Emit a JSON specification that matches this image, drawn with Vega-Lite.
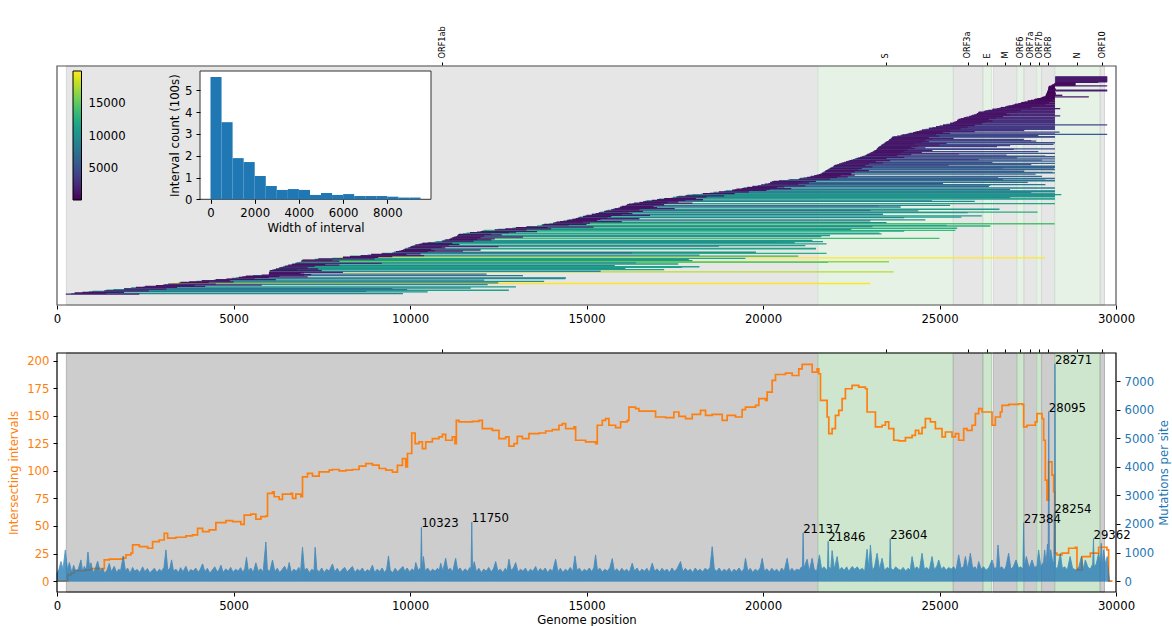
{
  "$schema": "https://vega.github.io/schema/vega-lite/v6.json",
  "padding": {"left": 8, "top": 25, "right": 2, "bottom": 5},
  "spacing": 23,
  "resolve": {"scale": {"fill": "independent", "stroke": "independent", "color": "independent"}},
  "config": {
    "font": "DejaVu Sans",
    "view": {"stroke": null},
    "axis": {
      "labelFont": "DejaVu Sans", "labelFontSize": 11.7, "titleFont": "DejaVu Sans", "titleFontSize": 11.7,
      "titleFontWeight": "normal", "labelColor": "black", "titleColor": "black", "tickColor": "black",
      "tickSize": 4, "tickWidth": 1, "domain": false, "grid": false, "labelPadding": 4, "titlePadding": 5,
      "labelFlush": false, "labelOverlap": false
    },
    "text": {"font": "DejaVu Sans"}
  },
  "datasets": {
    "genes": [
      {"g": "ORF1ab", "s": 266, "e": 21555, "k": "a", "m": 10910.5},
      {"g": "S", "s": 21563, "e": 25384, "k": "b", "m": 23473.5},
      {"g": "ORF3a", "s": 25393, "e": 26220, "k": "a", "m": 25806.5},
      {"g": "E", "s": 26245, "e": 26472, "k": "b", "m": 26358.5},
      {"g": "M", "s": 26523, "e": 27191, "k": "a", "m": 26857},
      {"g": "ORF6", "s": 27202, "e": 27387, "k": "b", "m": 27294.5},
      {"g": "ORF7a", "s": 27394, "e": 27759, "k": "a", "m": 27576.5},
      {"g": "ORF7b", "s": 27756, "e": 27887, "k": "b", "m": 27821.5},
      {"g": "ORF8", "s": 27894, "e": 28259, "k": "a", "m": 28076.5},
      {"g": "N", "s": 28274, "e": 29533, "k": "b", "m": 28903.5},
      {"g": "ORF10", "s": 29558, "e": 29674, "k": "a", "m": 29616}
    ],
    "hist": [
      {"b0": 0, "b1": 500, "c": 5.61}, {"b0": 500, "b1": 1000, "c": 3.54}, {"b0": 1000, "b1": 1500, "c": 1.89},
      {"b0": 1500, "b1": 2000, "c": 1.71}, {"b0": 2000, "b1": 2500, "c": 1.07}, {"b0": 2500, "b1": 3000, "c": 0.61},
      {"b0": 3000, "b1": 3500, "c": 0.43}, {"b0": 3500, "b1": 4000, "c": 0.47}, {"b0": 4000, "b1": 4500, "c": 0.43},
      {"b0": 4500, "b1": 5000, "c": 0.2}, {"b0": 5000, "b1": 5500, "c": 0.29}, {"b0": 5500, "b1": 6000, "c": 0.2},
      {"b0": 6000, "b1": 6500, "c": 0.24}, {"b0": 6500, "b1": 7000, "c": 0.15}, {"b0": 7000, "b1": 7500, "c": 0.15},
      {"b0": 7500, "b1": 8000, "c": 0.15}, {"b0": 8000, "b1": 8500, "c": 0.12}, {"b0": 8500, "b1": 9000, "c": 0.08},
      {"b0": 9000, "b1": 9500, "c": 0.08}
    ],
    "ivals": [
      {"s":250,"e":2330,"w":2080},{"s":500,"e":1400,"w":900},{"s":720,"e":1900,"w":1180},{"s":1000,"e":8760,"w":7760},
      {"s":1340,"e":2600,"w":1260},{"s":1600,"e":9920,"w":8320},{"s":1900,"e":3100,"w":1200},{"s":2100,"e":11720,"w":9620},
      {"s":2236,"e":3400,"w":1164},{"s":2500,"e":4200,"w":1700},{"s":2800,"e":3900,"w":1100},{"s":3000,"e":5800,"w":2800},
      {"s":3150,"e":4500,"w":1350},{"s":3273,"e":23040,"w":19767},
      {"s":3500,"e":4300,"w":800},{"s":3745,"e":5000,"w":1255},{"s":4100,"e":4900,"w":800},{"s":4500,"e":6200,"w":1700},
      {"s":4800,"e":5600,"w":800},{"s":5067,"e":14420,"w":9353},{"s":5150,"e":6000,"w":850},{"s":5250,"e":7100,"w":1850},
      {"s":5350,"e":6300,"w":950},{"s":5800,"e":7000,"w":1200},{"s":6000,"e":12170,"w":6170},{"s":6000,"e":7200,"w":1200},
      {"s":6005,"e":6900,"w":895},{"s":6010,"e":8100,"w":2090},{"s":6010,"e":7000,"w":990},{"s":6015,"e":23700,"w":17685},
      {"s":6030,"e":7500,"w":1470},
      {"s":6100,"e":6800,"w":700},{"s":6200,"e":7400,"w":1200},{"s":6300,"e":7100,"w":800},{"s":6350,"e":17700,"w":11350},
      {"s":6450,"e":7300,"w":850},{"s":6550,"e":8000,"w":1450},{"s":6650,"e":7600,"w":950},{"s":6750,"e":9200,"w":2450},
      {"s":6850,"e":21840,"w":14990},{"s":6900,"e":23570,"w":16670},{"s":6920,"e":8000,"w":1080},{"s":6953,"e":7800,"w":847},
      {"s":7400,"e":9000,"w":1600},{"s":7992,"e":27990,"w":19998},{"s":8100,"e":9100,"w":1000},{"s":8300,"e":9500,"w":1200},
      {"s":8600,"e":10400,"w":1800},{"s":8900,"e":9900,"w":1000},{"s":9200,"e":10300,"w":1100},{"s":9500,"e":16290,"w":6790},
      {"s":9600,"e":10500,"w":900},{"s":9690,"e":11500,"w":1810},{"s":9750,"e":10700,"w":950},{"s":9800,"e":12000,"w":2200},
      {"s":9850,"e":10600,"w":750},{"s":9880,"e":21500,"w":11620},{"s":9950,"e":11000,"w":1050},{"s":10000,"e":10900,"w":900},
      {"s":10030,"e":12500,"w":2470},{"s":10067,"e":18750,"w":8683},{"s":10150,"e":11100,"w":950},{"s":10250,"e":11400,"w":1150},
      {"s":10350,"e":11200,"w":850},{"s":10700,"e":20380,"w":9680},{"s":10900,"e":11800,"w":900},{"s":11000,"e":12300,"w":1300},
      {"s":11106,"e":11900,"w":794},
      {"s":11150,"e":12400,"w":1250},{"s":11200,"e":12000,"w":800},{"s":11250,"e":13200,"w":1950},{"s":11300,"e":21650,"w":10350},
      {"s":11330,"e":12100,"w":770},{"s":11360,"e":12600,"w":1240},{"s":11389,"e":12300,"w":911},{"s":11500,"e":23360,"w":11860},
      {"s":11700,"e":12800,"w":1100},{"s":11900,"e":13000,"w":1100},{"s":12000,"e":13600,"w":1600},{"s":12100,"e":25450,"w":13350},
      {"s":12400,"e":13300,"w":900},{"s":12700,"e":14000,"w":1300},{"s":13000,"e":13900,"w":900},{"s":13300,"e":15200,"w":1900},
      {"s":13600,"e":26440,"w":12840},{"s":13747,"e":14500,"w":753},{"s":13800,"e":15000,"w":1200},{"s":13950,"e":28262,"w":14312},
      {"s":14050,"e":15100,"w":1050},{"s":14150,"e":14900,"w":750},{"s":14250,"e":16000,"w":1750},{"s":14350,"e":23040,"w":8690},
      {"s":14450,"e":15300,"w":850},{"s":14600,"e":15400,"w":800},{"s":14693,"e":16500,"w":1807},{"s":14750,"e":15600,"w":850},
      {"s":14800,"e":25620,"w":10820},{"s":14900,"e":15700,"w":800},{"s":15000,"e":16800,"w":1800},{"s":15150,"e":16000,"w":850},
      {"s":15259,"e":16300,"w":1041},
      {"s":15350,"e":16200,"w":850},{"s":15400,"e":27780,"w":12380},{"s":15500,"e":16600,"w":1100},{"s":15600,"e":23040,"w":7440},
      {"s":15700,"e":16500,"w":800},{"s":15800,"e":17500,"w":1700},{"s":15900,"e":16800,"w":900},{"s":15950,"e":17000,"w":1050},
      {"s":16000,"e":16900,"w":900},{"s":16100,"e":23280,"w":7180},{"s":16150,"e":17200,"w":1050},{"s":16201,"e":17100,"w":899},
      {"s":16350,"e":18000,"w":1650},{"s":16500,"e":17300,"w":800},{"s":16600,"e":17600,"w":1000},{"s":16700,"e":24790,"w":8090},
      {"s":16850,"e":17800,"w":950},{"s":17000,"e":18300,"w":1300},{"s":17200,"e":18100,"w":900},{"s":17400,"e":28270,"w":10870},
      {"s":17550,"e":18400,"w":850},{"s":17617,"e":28270,"w":10653},{"s":17800,"e":18900,"w":1100},{"s":18000,"e":28450,"w":10450},
      {"s":18300,"e":19200,"w":900},{"s":18500,"e":28270,"w":9770},{"s":18750,"e":19600,"w":850},{"s":18950,"e":28270,"w":9320},
      {"s":19127,"e":20100,"w":973},{"s":19250,"e":20200,"w":950},{"s":19400,"e":20800,"w":1400},{"s":19550,"e":20400,"w":850},
      {"s":19700,"e":20600,"w":900},{"s":19850,"e":21200,"w":1350},{"s":19950,"e":26440,"w":6490},{"s":20050,"e":21000,"w":950},
      {"s":20150,"e":25100,"w":4950},{"s":20200,"e":21300,"w":1100},{"s":20250,"e":21100,"w":850},{"s":20300,"e":21500,"w":1200},
      {"s":20700,"e":28000,"w":7300},{"s":21014,"e":21900,"w":886},{"s":21150,"e":26660,"w":5510},{"s":21250,"e":22100,"w":850},
      {"s":21350,"e":22400,"w":1050},{"s":21450,"e":22200,"w":750},{"s":21520,"e":22600,"w":1080},{"s":21580,"e":22500,"w":920},
      {"s":21620,"e":27720,"w":6100},{"s":21660,"e":22500,"w":840},{"s":21700,"e":28200,"w":6500},{"s":21740,"e":22600,"w":860},
      {"s":21780,"e":23000,"w":1220},{"s":21820,"e":22700,"w":880},{"s":21860,"e":28250,"w":6390},{"s":21900,"e":22800,"w":900},
      {"s":21950,"e":28270,"w":6320},{"s":21990,"e":23100,"w":1110},{"s":22020,"e":22900,"w":880},{"s":22052,"e":25260,"w":3208},
      {"s":22150,"e":23000,"w":850},{"s":22250,"e":23400,"w":1150},{"s":22350,"e":23200,"w":850},{"s":22450,"e":23600,"w":1150},
      {"s":22550,"e":26110,"w":3560},{"s":22650,"e":23500,"w":850},{"s":22750,"e":24000,"w":1250},{"s":22850,"e":28000,"w":5150},
      {"s":22900,"e":23800,"w":900},{"s":22950,"e":24200,"w":1250},{"s":22995,"e":25550,"w":2555},{"s":23050,"e":23900,"w":850},
      {"s":23100,"e":24500,"w":1400},{"s":23140,"e":24000,"w":860},{"s":23170,"e":24800,"w":1630},{"s":23200,"e":24100,"w":900},
      {"s":23220,"e":27100,"w":3880},{"s":23240,"e":24300,"w":1060},{"s":23260,"e":24600,"w":1340},{"s":23278,"e":24200,"w":922},
      {"s":23300,"e":26630,"w":3330},{"s":23330,"e":24400,"w":1070},{"s":23360,"e":25000,"w":1640},{"s":23390,"e":28230,"w":4840},
      {"s":23420,"e":24300,"w":880},{"s":23450,"e":25200,"w":1750},{"s":23480,"e":24500,"w":1020},{"s":23510,"e":24700,"w":1190},
      {"s":23540,"e":27740,"w":4200},{"s":23570,"e":24600,"w":1030},{"s":23600,"e":27390,"w":3790},{"s":23620,"e":24800,"w":1180},
      {"s":23640,"e":25400,"w":1760},{"s":23650,"e":24700,"w":1050},{"s":23656,"e":28270,"w":4614},{"s":23800,"e":25000,"w":1200},
      {"s":23950,"e":24900,"w":950},{"s":24050,"e":29750,"w":5700},{"s":24150,"e":25300,"w":1150},{"s":24250,"e":25100,"w":850},
      {"s":24350,"e":26000,"w":1650},{"s":24430,"e":25300,"w":870},{"s":24505,"e":27390,"w":2885},
      {"s":24600,"e":28270,"w":3670},{"s":24700,"e":25600,"w":900},{"s":24800,"e":28270,"w":3470},{"s":24900,"e":25800,"w":900},
      {"s":25000,"e":28270,"w":3270},{"s":25100,"e":26000,"w":900},{"s":25200,"e":28270,"w":3070},{"s":25300,"e":26200,"w":900},
      {"s":25380,"e":28270,"w":2890},{"s":25420,"e":26300,"w":880},{"s":25460,"e":28270,"w":2810},{"s":25500,"e":26500,"w":1000},
      {"s":25520,"e":28270,"w":2750},{"s":25544,"e":26400,"w":856},{"s":25600,"e":28270,"w":2670},{"s":25680,"e":26600,"w":920},
      {"s":25760,"e":28270,"w":2510},{"s":25840,"e":26800,"w":960},{"s":25920,"e":28270,"w":2350},{"s":25980,"e":27000,"w":1020},
      {"s":26030,"e":28270,"w":2240},{"s":26060,"e":26900,"w":840},{"s":26090,"e":28270,"w":2180},{"s":26110,"e":27200,"w":1090},
      {"s":26250,"e":28270,"w":2020},{"s":26380,"e":27300,"w":920},{"s":26500,"e":28270,"w":1770},{"s":26620,"e":28420,"w":1800},
      {"s":26740,"e":27600,"w":860},{"s":26860,"e":28270,"w":1410},{"s":26960,"e":27800,"w":840},{"s":27054,"e":28270,"w":1216},
      {"s":27140,"e":28000,"w":860},{"s":27230,"e":28270,"w":1040},{"s":27320,"e":28100,"w":780},{"s":27410,"e":28270,"w":860},
      {"s":27500,"e":28270,"w":770},{"s":27590,"e":28200,"w":610},{"s":27680,"e":28270,"w":590},{"s":27770,"e":28270,"w":500},
      {"s":27860,"e":28270,"w":410},{"s":27940,"e":29230,"w":1290},{"s":27997,"e":28270,"w":273},{"s":28010,"e":28480,"w":470},
      {"s":28020,"e":28270,"w":250},{"s":28030,"e":28270,"w":240},{"s":28040,"e":28300,"w":260},{"s":28050,"e":28270,"w":220},
      {"s":28060,"e":28270,"w":210},{"s":28070,"e":29750,"w":1680},{"s":28075,"e":28270,"w":195},{"s":28080,"e":28300,"w":220},
      {"s":28085,"e":28270,"w":185},{"s":28088,"e":28270,"w":182},{"s":28091,"e":28270,"w":179},{"s":28150,"e":29750,"w":1600},
      {"s":28200,"e":28850,"w":650},{"s":28240,"e":28850,"w":610},{"s":28260,"e":28850,"w":590},{"s":28281,"e":29750,"w":1469},
      {"s":28281,"e":29750,"w":1469},{"s":28281,"e":29500,"w":1219},{"s":28281,"e":29750,"w":1469},{"s":28281,"e":29750,"w":1469},
      {"s":28281,"e":29750,"w":1469},{"s":28281,"e":29750,"w":1469},{"s":28281,"e":29750,"w":1469},
      {"s":400,"e":9800,"w":9400},{"s":900,"e":10500,"w":9600},{"s":1400,"e":12800,"w":11400},{"s":1900,"e":9500,"w":7600},
      {"s":2450,"e":13000,"w":10550},{"s":3050,"e":12200,"w":9150},
      {"s":3450,"e":12500,"w":9050},{"s":3950,"e":13800,"w":9850},{"s":4450,"e":12100,"w":7650},{"s":4950,"e":14400,"w":9450},
      {"s":5550,"e":13200,"w":7650},
      {"s":6020,"e":15400,"w":9380},{"s":6150,"e":17200,"w":11050},{"s":6280,"e":16100,"w":9820},{"s":6400,"e":18200,"w":11800},
      {"s":6530,"e":15800,"w":9270},{"s":6660,"e":17600,"w":10940},{"s":6790,"e":16400,"w":9610},{"s":6930,"e":18000,"w":11070},
      {"s":7300,"e":17900,"w":10600},{"s":7800,"e":19500,"w":11700},{"s":8300,"e":21000,"w":12700},{"s":8800,"e":18200,"w":9400},
      {"s":9200,"e":21800,"w":12600},{"s":9550,"e":19800,"w":10250},{"s":9850,"e":21500,"w":11650},
      {"s":10100,"e":21200,"w":11100},{"s":10300,"e":21800,"w":11500},{"s":10500,"e":20900,"w":10400},{"s":10750,"e":21700,"w":10950},
      {"s":10950,"e":21400,"w":10450},{"s":11150,"e":25000,"w":13850},{"s":11350,"e":21900,"w":10550},
      {"s":11600,"e":23300,"w":11700},{"s":12050,"e":24000,"w":11950},{"s":12500,"e":22500,"w":10000},{"s":12900,"e":25500,"w":12600},
      {"s":13300,"e":23100,"w":9800},{"s":13700,"e":25200,"w":11500},{"s":14100,"e":23500,"w":9400},{"s":14500,"e":24600,"w":10100},
      {"s":14780,"e":24000,"w":9220},{"s":14950,"e":26200,"w":11250},{"s":15150,"e":23400,"w":8250},{"s":15350,"e":25800,"w":10450},
      {"s":15550,"e":24400,"w":8850},{"s":15750,"e":26700,"w":10950},{"s":15950,"e":23900,"w":7950},{"s":16120,"e":25300,"w":9180},
      {"s":16300,"e":28270,"w":11970},{"s":16650,"e":26000,"w":9350},{"s":17050,"e":28270,"w":11220},{"s":17450,"e":27000,"w":9550},
      {"s":17850,"e":28270,"w":10420},{"s":18250,"e":28270,"w":10020},{"s":18600,"e":27600,"w":9000},{"s":18900,"e":28270,"w":9370},
      {"s":19200,"e":27000,"w":7800},{"s":19450,"e":28270,"w":8820},{"s":19700,"e":26400,"w":6700},{"s":19950,"e":28000,"w":8050},
      {"s":20200,"e":27500,"w":7300},{"s":20450,"e":28270,"w":7820},{"s":20750,"e":26800,"w":6050},{"s":21050,"e":28270,"w":7220},
      {"s":21350,"e":27900,"w":6550},
      {"s":21680,"e":28270,"w":6590},{"s":21760,"e":27400,"w":5640},{"s":21840,"e":28270,"w":6430},{"s":21920,"e":26800,"w":4880},
      {"s":22000,"e":28270,"w":6270},{"s":22100,"e":27600,"w":5500},{"s":22200,"e":28270,"w":6070},{"s":22300,"e":26500,"w":4200},
      {"s":22400,"e":28270,"w":5870},{"s":22500,"e":27900,"w":5400},{"s":22600,"e":28270,"w":5670},{"s":22700,"e":27200,"w":4500},
      {"s":22800,"e":28270,"w":5470},{"s":22920,"e":26900,"w":3980},{"s":23020,"e":28270,"w":5250},{"s":23120,"e":27800,"w":4680},
      {"s":23230,"e":28270,"w":5040},{"s":23350,"e":27000,"w":3650},{"s":23450,"e":28270,"w":4820},{"s":23560,"e":27600,"w":4040},
      {"s":23700,"e":28270,"w":4570},{"s":23900,"e":27800,"w":3900},{"s":24100,"e":28270,"w":4170},{"s":24300,"e":28400,"w":4100},
      {"s":24500,"e":27400,"w":2900},{"s":24700,"e":28270,"w":3570},{"s":24900,"e":28270,"w":3370},{"s":25100,"e":29750,"w":4650},
      {"s":25300,"e":28270,"w":2970},{"s":25500,"e":28270,"w":2770},{"s":25700,"e":28270,"w":2570},{"s":25900,"e":28420,"w":2520},
      {"s":26100,"e":28270,"w":2170},{"s":26300,"e":28270,"w":1970},{"s":26500,"e":28270,"w":1770},{"s":26700,"e":28270,"w":1570},
      {"s":26900,"e":28270,"w":1370},{"s":27100,"e":28270,"w":1170},{"s":27300,"e":28270,"w":970},{"s":27500,"e":28270,"w":770},
      {"s":27700,"e":28270,"w":570},{"s":27900,"e":28270,"w":370},
      {"s":28005,"e":28270,"w":265},{"s":28025,"e":28300,"w":275},{"s":28045,"e":28270,"w":225},{"s":28065,"e":29750,"w":1685},
      {"s":28083,"e":28270,"w":187},{"s":28100,"e":28270,"w":170},{"s":28180,"e":28850,"w":670},{"s":28281,"e":29750,"w":1469},
      {"s":28281,"e":29750,"w":1469},{"s":28281,"e":28850,"w":569},{"s":28281,"e":29750,"w":1469}
    ],
    "cov": [
      {"p":0,"v":0},{"p":207,"v":0},{"p":302,"v":5.7},{"p":396,"v":7.2},{"p":490,"v":9.6},{"p":820,"v":10.2},{"p":962,"v":11.4},
      {"p":1340,"v":19.3},{"p":1481,"v":19.9},{"p":1859,"v":20.8},{"p":1953,"v":23.8},{"p":2094,"v":25.3},{"p":2142,"v":32.8},
      {"p":2331,"v":31.3},{"p":2567,"v":29.8},{"p":2708,"v":35.8},{"p":2897,"v":37.3},{"p":3038,"v":43.4},{"p":3133,"v":38.9},
      {"p":3369,"v":39.8},{"p":3652,"v":41},{"p":3840,"v":41.9},{"p":3982,"v":47.9},{"p":4124,"v":44.9},{"p":4312,"v":46.4},
      {"p":4501,"v":53},{"p":4784,"v":54.8},{"p":4973,"v":53.9},{"p":5209,"v":51.5},{"p":5303,"v":59.9},{"p":5492,"v":60.8},
      {"p":5634,"v":56.3},{"p":5775,"v":58.4},{"p":5917,"v":59},{"p":5964,"v":79.5},{"p":6105,"v":81},{"p":6153,"v":76.5},
      {"p":6294,"v":74.1},{"p":6388,"v":78.9},{"p":6624,"v":79.5},{"p":6672,"v":75},{"p":6766,"v":78.9},{"p":6908,"v":76.5},
      {"p":6955,"v":94.6},{"p":7096,"v":97.6},{"p":7238,"v":95.2},{"p":7427,"v":99.1},{"p":7710,"v":100.6},{"p":7804,"v":101.2},
      {"p":7993,"v":100},{"p":8182,"v":100.6},{"p":8370,"v":101.2},{"p":8559,"v":104.2},{"p":8748,"v":106.6},{"p":8936,"v":105.1},
      {"p":9125,"v":102.1},{"p":9314,"v":100.6},{"p":9503,"v":98.8},{"p":9644,"v":105},{"p":9786,"v":111},{"p":9880,"v":103.6},
      {"p":9928,"v":115.7},{"p":10050,"v":134.3},{"p":10145,"v":124.7},{"p":10256,"v":126.2},{"p":10351,"v":120.2},{"p":10445,"v":126.2},
      {"p":10634,"v":129.2},{"p":10822,"v":130.7},{"p":10917,"v":133.1},{"p":11011,"v":127.7},{"p":11200,"v":130.7},{"p":11275,"v":124.7},
      {"p":11313,"v":145.8},{"p":11389,"v":144.3},{"p":11766,"v":144.9},{"p":11955,"v":145.8},{"p":12049,"v":138.3},{"p":12332,"v":136.7},
      {"p":12521,"v":129.2},{"p":12710,"v":130.7},{"p":12804,"v":122.3},{"p":12946,"v":124.7},{"p":13040,"v":131.3},{"p":13182,"v":129.2},
      {"p":13370,"v":133.7},{"p":13654,"v":134.3},{"p":13842,"v":136.1},{"p":14031,"v":137.3},{"p":14220,"v":141.3},{"p":14314,"v":142.8},
      {"p":14409,"v":138.3},{"p":14644,"v":139.8},{"p":14692,"v":127.7},{"p":14975,"v":126.2},{"p":15258,"v":124.7},{"p":15305,"v":141.3},
      {"p":15447,"v":145.8},{"p":15541,"v":147.3},{"p":15635,"v":141.3},{"p":15824,"v":139.2},{"p":15966,"v":144.3},{"p":16154,"v":145.8},
      {"p":16202,"v":157.8},{"p":16390,"v":156.3},{"p":16485,"v":154.2},{"p":16862,"v":154.2},{"p":16956,"v":148.8},{"p":17240,"v":148.2},
      {"p":17475,"v":153.3},{"p":17617,"v":149.4},{"p":17806,"v":147.3},{"p":17995,"v":151.2},{"p":18230,"v":154.8},{"p":18372,"v":150.3},
      {"p":18561,"v":151.2},{"p":18844,"v":145.8},{"p":18985,"v":150.3},{"p":19221,"v":148.8},{"p":19410,"v":155.4},{"p":19504,"v":157.8},
      {"p":19788,"v":159.3},{"p":19882,"v":165.4},{"p":20071,"v":163.9},{"p":20118,"v":171.4},{"p":20259,"v":181.9},{"p":20354,"v":187.3},
      {"p":20637,"v":188.6},{"p":20826,"v":186.4},{"p":21014,"v":192.5},{"p":21109,"v":196.4},{"p":21392,"v":189.5},{"p":21533,"v":192.5},
      {"p":21580,"v":188},{"p":21628,"v":163.9},{"p":21770,"v":163.9},{"p":21817,"v":148.8},{"p":21864,"v":133.7},{"p":21958,"v":138.3},
      {"p":22052,"v":150.3},{"p":22147,"v":154.8},{"p":22241,"v":165.4},{"p":22335,"v":174.4},{"p":22524,"v":177.4},{"p":22713,"v":175.9},
      {"p":22902,"v":174.4},{"p":22949,"v":153.3},{"p":23185,"v":139.8},{"p":23373,"v":141.3},{"p":23468,"v":144.3},{"p":23562,"v":138.3},
      {"p":23704,"v":127.7},{"p":23845,"v":127.1},{"p":24034,"v":130.1},{"p":24223,"v":132.2},{"p":24317,"v":136.7},{"p":24412,"v":133.7},
      {"p":24506,"v":139.2},{"p":24600,"v":147.3},{"p":24742,"v":144.3},{"p":24883,"v":138.3},{"p":25072,"v":130.7},{"p":25167,"v":135.2},
      {"p":25355,"v":130.7},{"p":25450,"v":133.7},{"p":25544,"v":127.7},{"p":25686,"v":138.3},{"p":25780,"v":136.7},{"p":25922,"v":141.3},
      {"p":26016,"v":151.8},{"p":26110,"v":156.3},{"p":26205,"v":153.3},{"p":26393,"v":153.3},{"p":26488,"v":141.3},{"p":26582,"v":148.8},
      {"p":26724,"v":153.3},{"p":26771,"v":159.3},{"p":26960,"v":160.2},{"p":27243,"v":160.8},{"p":27337,"v":160.2},{"p":27384,"v":139.8},
      {"p":27479,"v":141.3},{"p":27714,"v":144.3},{"p":27762,"v":151.8},{"p":27903,"v":147.3},{"p":27950,"v":127.7},{"p":27998,"v":91.6},
      {"p":28045,"v":73.5},{"p":28092,"v":108.1},{"p":28186,"v":96.1},{"p":28234,"v":81},{"p":28262,"v":25.3},{"p":28328,"v":23.8},
      {"p":28470,"v":25.3},{"p":28658,"v":29.8},{"p":28847,"v":30.7},{"p":28894,"v":10.2},{"p":29036,"v":22.3},{"p":29272,"v":25.3},
      {"p":29508,"v":30.7},{"p":29744,"v":28.3},{"p":29791,"v":0},{"p":29900,"v":0}
    ],
    "mut": [
      {"p":0,"m":280},{"p":50,"m":395},{"p":113,"m":685},{"p":170,"m":420},{"p":235,"m":1091},{"p":300,"m":380},{"p":349,"m":650},
      {"p":420,"m":300},{"p":471,"m":557},{"p":530,"m":350},{"p":600,"m":420},{"p":679,"m":743},{"p":730,"m":300},{"p":773,"m":520},
      {"p":830,"m":380},{"p":877,"m":1022},{"p":930,"m":400},{"p":962,"m":640},{"p":1020,"m":300},{"p":1080,"m":420},{"p":1151,"m":697},
      {"p":1220,"m":350},{"p":1290,"m":460},{"p":1350,"m":280},{"p":1420,"m":390},{"p":1481,"m":620},{"p":1540,"m":330},{"p":1623,"m":520},
      {"p":1690,"m":300},{"p":1750,"m":420},{"p":1800,"m":360},{"p":1878,"m":882},{"p":1940,"m":350},{"p":2000,"m":460},{"p":2070,"m":280},
      {"p":2142,"m":480},{"p":2200,"m":350},{"p":2270,"m":410},{"p":2350,"m":300},{"p":2425,"m":500},{"p":2490,"m":330},{"p":2560,"m":440},
      {"p":2630,"m":290},{"p":2700,"m":380},{"p":2760,"m":450},{"p":2830,"m":300},{"p":2900,"m":420},{"p":2960,"m":350},{"p":3030,"m":480},
      {"p":3086,"m":1091},{"p":3140,"m":380},{"p":3200,"m":450},{"p":3246,"m":743},{"p":3300,"m":350},{"p":3370,"m":420},{"p":3440,"m":300},
      {"p":3500,"m":470},{"p":3570,"m":330},{"p":3652,"m":520},{"p":3720,"m":300},{"p":3790,"m":410},{"p":3860,"m":350},{"p":3930,"m":460},
      {"p":4000,"m":310},{"p":4060,"m":420},{"p":4124,"m":604},{"p":4190,"m":330},{"p":4260,"m":450},{"p":4330,"m":280},{"p":4400,"m":390},
      {"p":4470,"m":500},{"p":4540,"m":320},{"p":4600,"m":420},{"p":4643,"m":560},{"p":4710,"m":300},{"p":4780,"m":430},{"p":4850,"m":350},
      {"p":4920,"m":480},{"p":4990,"m":310},{"p":5060,"m":420},{"p":5130,"m":350},{"p":5200,"m":470},{"p":5270,"m":300},{"p":5320,"m":440},
      {"p":5369,"m":836},{"p":5420,"m":350},{"p":5490,"m":460},{"p":5560,"m":300},{"p":5633,"m":640},{"p":5700,"m":350},{"p":5770,"m":430},
      {"p":5840,"m":320},{"p":5917,"m":1370},{"p":5960,"m":400},{"p":6030,"m":350},{"p":6105,"m":740},{"p":6170,"m":330},{"p":6240,"m":450},
      {"p":6310,"m":300},{"p":6380,"m":410},{"p":6450,"m":520},{"p":6520,"m":330},{"p":6577,"m":650},{"p":6640,"m":300},{"p":6710,"m":420},
      {"p":6780,"m":350},{"p":6850,"m":480},{"p":6900,"m":320},{"p":6955,"m":1184},{"p":7010,"m":380},{"p":7080,"m":450},{"p":7150,"m":300},
      {"p":7220,"m":420},{"p":7280,"m":350},{"p":7313,"m":1184},{"p":7360,"m":400},{"p":7430,"m":330},{"p":7500,"m":460},{"p":7570,"m":300},
      {"p":7640,"m":420},{"p":7710,"m":350},{"p":7804,"m":600},{"p":7870,"m":320},{"p":7940,"m":450},{"p":8010,"m":300},{"p":8080,"m":410},
      {"p":8150,"m":480},{"p":8220,"m":320},{"p":8300,"m":430},{"p":8370,"m":510},{"p":8440,"m":300},{"p":8510,"m":420},{"p":8580,"m":350},
      {"p":8650,"m":460},{"p":8720,"m":310},{"p":8790,"m":400},{"p":8860,"m":350},{"p":8936,"m":560},{"p":9000,"m":300},{"p":9070,"m":420},
      {"p":9140,"m":340},{"p":9210,"m":460},{"p":9280,"m":300},{"p":9340,"m":420},{"p":9390,"m":882},{"p":9440,"m":380},{"p":9510,"m":300},
      {"p":9580,"m":450},{"p":9650,"m":330},{"p":9720,"m":420},{"p":9803,"m":511},{"p":9850,"m":350},{"p":9920,"m":460},{"p":9990,"m":320},
      {"p":10060,"m":430},{"p":10120,"m":350},{"p":10163,"m":650},{"p":10230,"m":380},{"p":10290,"m":450},{"p":10303,"m":340},
      {"p":10323,"m":1880,"t":1},{"p":10343,"m":420},{"p":10380,"m":860},{"p":10430,"m":350},{"p":10500,"m":460},{"p":10570,"m":330},
      {"p":10640,"m":420},{"p":10710,"m":350},{"p":10780,"m":450},{"p":10830,"m":380},{"p":10870,"m":627},{"p":10930,"m":350},{"p":11011,"m":800},
      {"p":11070,"m":380},{"p":11140,"m":450},{"p":11210,"m":330},{"p":11294,"m":800},{"p":11350,"m":380},{"p":11420,"m":460},{"p":11490,"m":320},
      {"p":11560,"m":430},{"p":11630,"m":350},{"p":11700,"m":480},{"p":11730,"m":400},{"p":11750,"m":2066,"t":1},{"p":11770,"m":420},
      {"p":11820,"m":680},{"p":11880,"m":330},{"p":11950,"m":450},{"p":12020,"m":300},{"p":12090,"m":420},{"p":12160,"m":350},{"p":12230,"m":480},
      {"p":12300,"m":320},{"p":12370,"m":450},{"p":12427,"m":685},{"p":12490,"m":350},{"p":12560,"m":420},{"p":12630,"m":300},{"p":12700,"m":450},
      {"p":12750,"m":350},{"p":12804,"m":766},{"p":12860,"m":380},{"p":12930,"m":450},{"p":12993,"m":650},{"p":13060,"m":320},{"p":13130,"m":420},
      {"p":13200,"m":350},{"p":13270,"m":460},{"p":13340,"m":300},{"p":13410,"m":420},{"p":13480,"m":350},{"p":13559,"m":511},{"p":13620,"m":320},
      {"p":13690,"m":440},{"p":13760,"m":350},{"p":13830,"m":460},{"p":13900,"m":300},{"p":13970,"m":420},{"p":14040,"m":350},{"p":14126,"m":766},
      {"p":14190,"m":330},{"p":14260,"m":450},{"p":14330,"m":300},{"p":14400,"m":420},{"p":14470,"m":350},{"p":14540,"m":480},{"p":14610,"m":330},
      {"p":14673,"m":882},{"p":14730,"m":380},{"p":14800,"m":450},{"p":14870,"m":320},{"p":14940,"m":420},{"p":15010,"m":350},{"p":15080,"m":460},
      {"p":15150,"m":330},{"p":15210,"m":480},{"p":15258,"m":917},{"p":15310,"m":380},{"p":15380,"m":450},{"p":15450,"m":320},{"p":15520,"m":420},
      {"p":15590,"m":350},{"p":15660,"m":460},{"p":15730,"m":790},{"p":15790,"m":350},{"p":15860,"m":430},{"p":15930,"m":320},{"p":16000,"m":450},
      {"p":16070,"m":350},{"p":16140,"m":420},{"p":16210,"m":300},{"p":16296,"m":627},{"p":16360,"m":350},{"p":16430,"m":460},{"p":16500,"m":320},
      {"p":16570,"m":420},{"p":16640,"m":350},{"p":16710,"m":450},{"p":16780,"m":300},{"p":16862,"m":627},{"p":16930,"m":350},{"p":17000,"m":430},
      {"p":17070,"m":320},{"p":17140,"m":450},{"p":17210,"m":350},{"p":17280,"m":420},{"p":17350,"m":300},{"p":17420,"m":460},{"p":17490,"m":350},
      {"p":17560,"m":420},{"p":17664,"m":685},{"p":17730,"m":330},{"p":17800,"m":450},{"p":17870,"m":350},{"p":17940,"m":420},{"p":18010,"m":300},
      {"p":18080,"m":460},{"p":18150,"m":350},{"p":18220,"m":420},{"p":18290,"m":320},{"p":18360,"m":450},{"p":18430,"m":380},{"p":18500,"m":480},
      {"p":18561,"m":1207},{"p":18620,"m":420},{"p":18690,"m":350},{"p":18760,"m":460},{"p":18830,"m":320},{"p":18900,"m":420},{"p":18970,"m":350},
      {"p":19040,"m":450},{"p":19110,"m":300},{"p":19180,"m":420},{"p":19250,"m":350},{"p":19320,"m":460},{"p":19400,"m":320},{"p":19460,"m":430},
      {"p":19504,"m":800},{"p":19570,"m":350},{"p":19640,"m":450},{"p":19710,"m":300},{"p":19780,"m":420},{"p":19850,"m":350},{"p":19920,"m":460},
      {"p":19977,"m":800},{"p":20040,"m":350},{"p":20110,"m":430},{"p":20180,"m":320},{"p":20250,"m":450},{"p":20320,"m":350},{"p":20390,"m":420},
      {"p":20460,"m":300},{"p":20530,"m":460},{"p":20600,"m":350},{"p":20684,"m":800},{"p":20750,"m":330},{"p":20820,"m":450},{"p":20890,"m":350},
      {"p":20960,"m":420},{"p":21030,"m":380},{"p":21090,"m":500},{"p":21117,"m":380},{"p":21137,"m":1693,"t":1},{"p":21157,"m":450},
      {"p":21250,"m":766},{"p":21310,"m":350},{"p":21392,"m":800},{"p":21450,"m":420},{"p":21520,"m":350},{"p":21599,"m":917},{"p":21660,"m":420},
      {"p":21730,"m":500},{"p":21800,"m":380},{"p":21826,"m":450},{"p":21846,"m":1394,"t":1},{"p":21866,"m":500},{"p":21920,"m":420},
      {"p":21958,"m":1068},{"p":22020,"m":420},{"p":22100,"m":860},{"p":22160,"m":380},{"p":22230,"m":480},{"p":22300,"m":380},{"p":22370,"m":500},
      {"p":22430,"m":350},{"p":22524,"m":511},{"p":22600,"m":420},{"p":22670,"m":500},{"p":22740,"m":380},{"p":22810,"m":450},{"p":22880,"m":350},
      {"p":22949,"m":1115},{"p":23000,"m":420},{"p":23043,"m":1265},{"p":23100,"m":380},{"p":23160,"m":500},{"p":23232,"m":975},{"p":23300,"m":420},
      {"p":23373,"m":800},{"p":23440,"m":380},{"p":23520,"m":480},{"p":23584,"m":420},{"p":23604,"m":1484,"t":1},{"p":23624,"m":450},
      {"p":23690,"m":380},{"p":23760,"m":500},{"p":23830,"m":420},{"p":23900,"m":380},{"p":23970,"m":480},{"p":24040,"m":350},{"p":24110,"m":450},
      {"p":24170,"m":380},{"p":24223,"m":860},{"p":24290,"m":420},{"p":24360,"m":500},{"p":24430,"m":380},{"p":24506,"m":975},{"p":24570,"m":420},
      {"p":24640,"m":480},{"p":24710,"m":380},{"p":24789,"m":860},{"p":24850,"m":420},{"p":24920,"m":500},{"p":24978,"m":740},{"p":25050,"m":420},
      {"p":25120,"m":500},{"p":25190,"m":380},{"p":25260,"m":480},{"p":25330,"m":420},{"p":25400,"m":500},{"p":25470,"m":380},{"p":25544,"m":917},
      {"p":25610,"m":450},{"p":25680,"m":500},{"p":25733,"m":860},{"p":25800,"m":420},{"p":25874,"m":975},{"p":25940,"m":450},{"p":26010,"m":500},
      {"p":26060,"m":380},{"p":26110,"m":685},{"p":26180,"m":420},{"p":26250,"m":500},{"p":26320,"m":380},{"p":26400,"m":480},{"p":26488,"m":740},
      {"p":26560,"m":420},{"p":26620,"m":500},{"p":26657,"m":1265},{"p":26710,"m":450},{"p":26770,"m":500},{"p":26830,"m":380},{"p":26880,"m":500},
      {"p":26959,"m":975},{"p":27020,"m":420},{"p":27090,"m":500},{"p":27167,"m":740},{"p":27240,"m":450},{"p":27300,"m":500},{"p":27364,"m":420},
      {"p":27384,"m":2043,"t":1},{"p":27404,"m":500},{"p":27460,"m":860},{"p":27540,"m":450},{"p":27620,"m":740},{"p":27690,"m":480},
      {"p":27760,"m":520},{"p":27808,"m":1091},{"p":27870,"m":500},{"p":27950,"m":680},{"p":27979,"m":1090},{"p":28020,"m":600},{"p":28060,"m":1300},
      {"p":28078,"m":450},{"p":28095,"m":5933,"t":1},{"p":28112,"m":600},{"p":28150,"m":1100},{"p":28200,"m":700},{"p":28240,"m":650},
      {"p":28254,"m":2369,"t":1},{"p":28262,"m":600},{"p":28271,"m":7593,"t":1},{"p":28286,"m":500},{"p":28340,"m":420},{"p":28422,"m":975},
      {"p":28480,"m":450},{"p":28550,"m":500},{"p":28620,"m":380},{"p":28700,"m":860},{"p":28770,"m":450},{"p":28875,"m":380},{"p":28950,"m":500},
      {"p":29020,"m":860},{"p":29080,"m":420},{"p":29130,"m":740},{"p":29200,"m":500},{"p":29270,"m":420},{"p":29340,"m":600},
      {"p":29362,"m":1486,"t":1},{"p":29382,"m":500},{"p":29440,"m":600},{"p":29508,"m":975},{"p":29560,"m":600},{"p":29583,"m":1323},
      {"p":29620,"m":500},{"p":29649,"m":1091},{"p":29700,"m":600},{"p":29750,"m":860},{"p":29790,"m":300},{"p":29820,"m":0}
    ]
  },
  "vconcat": [
    {
      "width": 1059,
      "height": 239,
      "layer": [
        {
          "data": {"name": "genes"},
          "mark": {"type": "rect", "strokeWidth": 1},
          "encoding": {
            "x": {"field": "s", "type": "quantitative", "scale": {"domain": [0, 30000], "nice": false, "zero": false}, "axis": null},
            "x2": {"field": "e"},
            "fill": {"field": "k", "type": "nominal", "scale": {"domain": ["a", "b"], "range": ["#e6e6e6", "#e6f2e6"]}, "legend": null},
            "stroke": {"field": "k", "type": "nominal", "scale": {"domain": ["a", "b"], "range": ["#d6d6d6", "#d6ead6"]}, "legend": null}
          }
        },
        {
          "data": {"name": "ivals"},
          "transform": [{"window": [{"op": "row_number", "as": "r"}], "sort": [{"field": "s", "order": "ascending"}, {"field": "e", "order": "ascending"}]}],
          "mark": {"type": "rule", "strokeWidth": 1.3},
          "encoding": {
            "x": {"field": "s", "type": "quantitative", "scale": {"domain": [0, 30000], "nice": false, "zero": false},
                  "axis": {"orient": "bottom", "values": [0, 5000, 10000, 15000, 20000, 25000, 30000], "format": "d", "title": null}},
            "x2": {"field": "e"},
            "y": {"field": "r", "type": "quantitative", "scale": {"domain": [-18.45, 409.45], "nice": false, "zero": false}, "axis": null},
            "color": {
              "field": "w", "type": "quantitative", "scale": {"scheme": "viridis", "domain": [100, 19900]},
              "legend": {
                "orient": "none", "legendX": 16, "legendY": 5, "direction": "vertical", "title": null,
                "gradientLength": 129, "gradientThickness": 8.5, "values": [5000, 10000, 15000], "format": "d",
                "labelFont": "DejaVu Sans", "labelFontSize": 11.7, "labelColor": "black", "labelOffset": 7,
                "gradientStrokeColor": "black", "gradientStrokeWidth": 1
              }
            },
            "order": {"field": "w", "sort": "descending"}
          }
        },
        {
          "data": {"name": "genes"},
          "mark": {"type": "rule", "opacity": 0},
          "encoding": {
            "x": {"field": "m", "type": "quantitative", "scale": {"domain": [0, 30000], "nice": false, "zero": false},
                  "axis": {
                    "orient": "top", "title": null, "labelAngle": 270, "labelAlign": "left", "labelBaseline": "middle", "labelFontSize": 8.2,
                    "values": [10910.5, 23473.5, 25806.5, 26358.5, 26857, 27294.5, 27576.5, 27821.5, 28076.5, 28903.5, 29616],
                    "labelExpr": "datum.value < 20000 ? 'ORF1ab' : datum.value < 25000 ? 'S' : datum.value < 26000 ? 'ORF3a' : datum.value < 26500 ? 'E' : datum.value < 27000 ? 'M' : datum.value < 27400 ? 'ORF6' : datum.value < 27700 ? 'ORF7a' : datum.value < 27900 ? 'ORF7b' : datum.value < 28500 ? 'ORF8' : datum.value < 29300 ? 'N' : 'ORF10'"
                  }}
          }
        },
        {
          "data": {"values": [{"x0": -475, "x1": 9975, "y0": 0, "y1": 5.89}]},
          "mark": {"type": "rect", "fill": "white", "stroke": "#333333", "strokeWidth": 1},
          "encoding": {
            "x": {"field": "x0", "type": "quantitative", "scale": {"domain": [-475, 9975], "range": [143, 374], "nice": false, "zero": false},
                  "axis": {"orient": "bottom", "offset": -105.7, "zindex": 2, "values": [0, 2000, 4000, 6000, 8000], "format": "d", "title": "Width of interval", "titlePadding": 3}},
            "x2": {"field": "x1"},
            "y": {"field": "y0", "type": "quantitative", "scale": {"domain": [0, 5.89], "range": [133.3, 5], "nice": false, "zero": false},
                  "axis": {"orient": "left", "offset": -143, "zindex": 2, "values": [0, 1, 2, 3, 4, 5], "format": "d", "title": "Interval count (100s)", "titlePadding": 4}},
            "y2": {"field": "y1"}
          }
        },
        {
          "data": {"name": "hist"},
          "mark": {"type": "rect", "fill": "#1f77b4"},
          "encoding": {
            "x": {"field": "b0", "type": "quantitative", "scale": {"domain": [-475, 9975], "range": [143, 374], "nice": false, "zero": false}, "axis": null},
            "x2": {"field": "b1"},
            "y": {"field": "c", "type": "quantitative", "scale": {"domain": [0, 5.89], "range": [133.3, 5], "nice": false, "zero": false}, "axis": null},
            "y2": {"datum": 0}
          }
        },
        {
          "data": {"values": [{"x0": 0, "x1": 30000}]},
          "mark": {"type": "rect", "fill": "transparent", "stroke": "#555555", "strokeWidth": 1.2},
          "encoding": {
            "x": {"field": "x0", "type": "quantitative", "scale": {"domain": [0, 30000], "nice": false, "zero": false}, "axis": null},
            "x2": {"field": "x1"}
          }
        }
      ],
      "resolve": {"scale": {"x": "independent", "y": "independent"}, "axis": {"x": "independent", "y": "independent"}}
    },
    {
      "width": 1059,
      "height": 239,
      "layer": [
        {
          "data": {"name": "genes"},
          "mark": {"type": "rect", "strokeWidth": 1},
          "encoding": {
            "x": {"field": "s", "type": "quantitative", "scale": {"domain": [0, 30000], "nice": false, "zero": false}, "axis": null},
            "x2": {"field": "e"},
            "fill": {"field": "k", "type": "nominal", "scale": {"domain": ["a", "b"], "range": ["#cdcdcd", "#cde6cd"]}, "legend": null},
            "stroke": {"field": "k", "type": "nominal", "scale": {"domain": ["a", "b"], "range": ["#b4b4b4", "#b0d4b0"]}, "legend": null}
          }
        },
        {
          "data": {"name": "genes"},
          "mark": {"type": "rule", "opacity": 0},
          "encoding": {
            "x": {"field": "m", "type": "quantitative", "scale": {"domain": [0, 30000], "nice": false, "zero": false},
                  "axis": {"orient": "top", "title": null, "labels": false,
                           "values": [10910.5, 23473.5, 25806.5, 26358.5, 26857, 27294.5, 27576.5, 27821.5, 28076.5, 28903.5, 29616]}}
          }
        },
        {
          "data": {"name": "cov"},
          "mark": {"type": "line", "interpolate": "step-after", "stroke": "#ff7f0e", "strokeWidth": 1.7},
          "encoding": {
            "x": {"field": "p", "type": "quantitative", "scale": {"domain": [0, 30000], "nice": false, "zero": false},
                  "axis": {"orient": "bottom", "values": [0, 5000, 10000, 15000, 20000, 25000, 30000], "format": "d", "title": "Genome position", "titlePadding": 3}},
            "y": {"field": "v", "type": "quantitative", "scale": {"domain": [-9.85, 206.8], "nice": false, "zero": false},
                  "axis": {"orient": "left", "values": [0, 25, 50, 75, 100, 125, 150, 175, 200], "format": "d",
                           "title": "Intersecting intervals", "labelColor": "#ff7f0e", "titleColor": "#ff7f0e", "titlePadding": 7}}
          }
        },
        {
          "data": {"name": "mut"},
          "mark": {"type": "area", "fill": "#1f77b4", "stroke": "#1f77b4", "strokeWidth": 0.9, "opacity": 0.75, "interpolate": "linear"},
          "encoding": {
            "x": {"field": "p", "type": "quantitative", "scale": {"domain": [0, 30000], "nice": false, "zero": false}, "axis": null},
            "y": {"field": "m", "type": "quantitative", "scale": {"domain": [-380, 7980], "nice": false, "zero": false},
                  "axis": {"orient": "right", "values": [0, 1000, 2000, 3000, 4000, 5000, 6000, 7000], "format": "d",
                           "title": "Mutations per site", "titleAngle": 270, "titleBaseline": "top", "labelColor": "#1f77b4", "titleColor": "#1f77b4", "titlePadding": 5}},
            "y2": {"datum": 0}
          }
        },
        {
          "data": {"name": "mut"},
          "transform": [{"filter": "datum.t == 1"}],
          "mark": {"type": "text", "align": "left", "baseline": "alphabetic", "fontSize": 11.7, "color": "black"},
          "encoding": {
            "x": {"field": "p", "type": "quantitative", "scale": {"domain": [0, 30000], "nice": false, "zero": false}, "axis": null},
            "y": {"field": "m", "type": "quantitative", "scale": {"domain": [-380, 7980], "nice": false, "zero": false}, "axis": null},
            "text": {"field": "p", "type": "quantitative", "format": "d"}
          }
        },
        {
          "data": {"values": [{"x0": 0, "x1": 30000}]},
          "mark": {"type": "rect", "fill": "transparent", "stroke": "black", "strokeWidth": 1.2},
          "encoding": {
            "x": {"field": "x0", "type": "quantitative", "scale": {"domain": [0, 30000], "nice": false, "zero": false}, "axis": null},
            "x2": {"field": "x1"}
          }
        }
      ],
      "resolve": {"scale": {"y": "independent"}, "axis": {"x": "independent", "y": "independent"}}
    }
  ]
}
